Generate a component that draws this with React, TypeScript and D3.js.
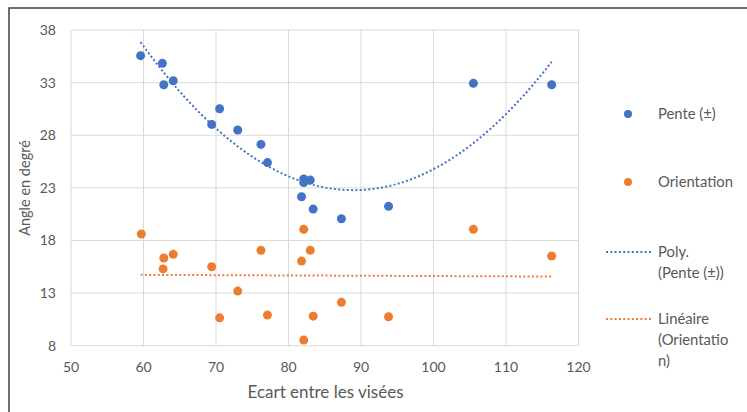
import React from "react";
import * as d3 from "d3";

// distances (x) shared by both series
const ecart = [59.6, 62.6, 62.8, 64.1, 69.4, 70.5, 73.0, 76.2, 77.1, 82.1, 83.0, 82.1, 81.8, 105.5, 116.3, 83.4, 87.3, 93.8];
const pente = [35.56, 34.83, 32.8, 33.18, 29.03, 30.52, 28.5, 27.13, 25.4, 23.84, 23.74, 23.5, 22.15, 32.93, 32.8, 20.98, 20.06, 21.24];
const orientation = [18.61, 16.33, 15.3, 16.68, 15.5, 10.65, 13.19, 17.06, 10.91, 19.06, 17.06, 16.04, 19.06, 16.52, 10.81, 12.12, 10.75, 8.53];
const orientX = [59.7, 62.8, 62.7, 64.1, 69.4, 70.5, 73.0, 76.2, 77.1, 82.1, 83.0, 81.8, 105.5, 116.3, 83.4, 87.3, 93.8, 82.1];

const xTicks = [50, 60, 70, 80, 90, 100, 110, 120];
const yTicks = [8, 13, 18, 23, 28, 33, 38];

const BLUE = "#4472C4";
const ORANGE = "#ED7D31";
const TEXT = "#595959";
const GRID = "#d9d9d9";
const FONT = "Lato, 'Open Sans', sans-serif";

// least squares fits (Excel trendlines)
function polyFit(xs: number[], ys: number[]) {
  const s = (f: (x: number, y: number) => number) => d3.sum(xs, (x, i) => f(x, ys[i]));
  const n = xs.length;
  const A = [
    [n, s((x) => x), s((x) => x * x)],
    [s((x) => x), s((x) => x * x), s((x) => x ** 3)],
    [s((x) => x * x), s((x) => x ** 3), s((x) => x ** 4)],
  ];
  const b = [s((x, y) => y), s((x, y) => x * y), s((x, y) => x * x * y)];
  // gaussian elimination
  for (let i = 0; i < 3; i++) {
    for (let k = i + 1; k < 3; k++) {
      const f = A[k][i] / A[i][i];
      for (let j = i; j < 3; j++) A[k][j] -= f * A[i][j];
      b[k] -= f * b[i];
    }
  }
  const c = [0, 0, 0];
  for (let i = 2; i >= 0; i--) {
    let v = b[i];
    for (let j = i + 1; j < 3; j++) v -= A[i][j] * c[j];
    c[i] = v / A[i][i];
  }
  return (x: number) => c[0] + c[1] * x + c[2] * x * x;
}

function linFit(xs: number[], ys: number[]) {
  const mx = d3.mean(xs)!;
  const my = d3.mean(ys)!;
  const sxy = d3.sum(xs, (x, i) => (x - mx) * (ys[i] - my));
  const sxx = d3.sum(xs, (x) => (x - mx) ** 2);
  const m = sxy / sxx;
  return (x: number) => my + m * (x - mx);
}

export default function App() {
  const width = 747;
  const height = 412;
  const x = d3.scaleLinear().domain([50, 120]).range([71, 578.5]);
  const y = d3.scaleLinear().domain([8, 38]).range([345.7, 30]);

  const polyF = polyFit(ecart, pente);
  const linF = linFit(orientX, orientation);
  const [x0, x1] = d3.extent([...ecart, ...orientX]) as [number, number];
  const samples = d3.range(0, 101).map((i) => x0 + ((x1 - x0) * i) / 100);
  const polyPath = d3
    .line<number>()
    .x((d) => x(d))
    .y((d) => y(polyF(d)))(samples)!;
  const linPath = d3
    .line<number>()
    .x((d) => x(d))
    .y((d) => y(linF(d)))([x0, x1])!;

  const legendX = 628;
  const textX = 658;
  const lf = 14.8;

  return (
    <svg
      width={width}
      height={height}
      style={{ position: "absolute", left: 0, top: 0, background: "#fff" }}
      fontFamily={FONT}
    >
      <rect x={9} y={8} width={width} height={height} fill="#fff" stroke="#404040" strokeWidth={1.5} />

      {/* grid */}
      {yTicks.map((t) => (
        <line key={"gy" + t} x1={x(50)} x2={x(120)} y1={y(t)} y2={y(t)} stroke={GRID} strokeWidth={1} />
      ))}
      {xTicks.map((t) => (
        <line key={"gx" + t} x1={x(t)} x2={x(t)} y1={y(38)} y2={y(8)} stroke={GRID} strokeWidth={1} />
      ))}

      {/* tick labels */}
      {yTicks.map((t) => (
        <text key={"ly" + t} x={56} y={y(t)} dy="0.35em" textAnchor="end" fontSize={14} fill={TEXT}>
          {t}
        </text>
      ))}
      {xTicks.map((t) => (
        <text key={"lx" + t} x={x(t)} y={367} dy="0.35em" textAnchor="middle" fontSize={14} fill={TEXT}>
          {t}
        </text>
      ))}

      {/* axis titles */}
      <text x={325.5} y={392} dy="0.35em" textAnchor="middle" fontSize={17} fill={TEXT}>
        Ecart entre les visées
      </text>
      <text
        transform={`translate(25,${188}) rotate(-90)`}
        dy="0.35em"
        textAnchor="middle"
        fontSize={14.5}
        fill={TEXT}
      >
        Angle en degré
      </text>

      {/* points */}
      {ecart.map((d, i) => (
        <circle key={"p" + i} cx={x(d)} cy={y(pente[i])} r={4.5} fill={BLUE} />
      ))}
      {orientX.map((d, i) => (
        <circle key={"o" + i} cx={x(d)} cy={y(orientation[i])} r={4.5} fill={ORANGE} />
      ))}

      {/* trendlines */}
      <path d={polyPath} fill="none" stroke={BLUE} strokeWidth={2} strokeDasharray="2 2.3" />
      <path d={linPath} fill="none" stroke={ORANGE} strokeWidth={2} strokeDasharray="2 2.3" />

      {/* legend */}
      <circle cx={legendX} cy={114} r={4} fill={BLUE} />
      <text x={textX} y={114} dy="0.35em" fontSize={lf} fill={TEXT}>Pente (±)</text>
      <circle cx={legendX} cy={182} r={4} fill={ORANGE} />
      <text x={textX} y={182} dy="0.35em" fontSize={lf} fill={TEXT}>Orientation</text>

      <line x1={606} x2={651} y1={252} y2={252} stroke={BLUE} strokeWidth={2} strokeDasharray="2 2.3" />
      <text x={textX} y={252} dy="0.35em" fontSize={lf} fill={TEXT}>Poly.</text>
      <text x={textX} y={273} dy="0.35em" fontSize={lf} fill={TEXT}>(Pente (±))</text>

      <line x1={606} x2={651} y1={319} y2={319} stroke={ORANGE} strokeWidth={2} strokeDasharray="2 2.3" />
      <text x={textX} y={319} dy="0.35em" fontSize={lf} fill={TEXT}>Linéaire</text>
      <text x={textX} y={340} dy="0.35em" fontSize={lf} fill={TEXT}>(Orientatio</text>
      <text x={textX} y={361} dy="0.35em" fontSize={lf} fill={TEXT}>n)</text>
    </svg>
  );
}
